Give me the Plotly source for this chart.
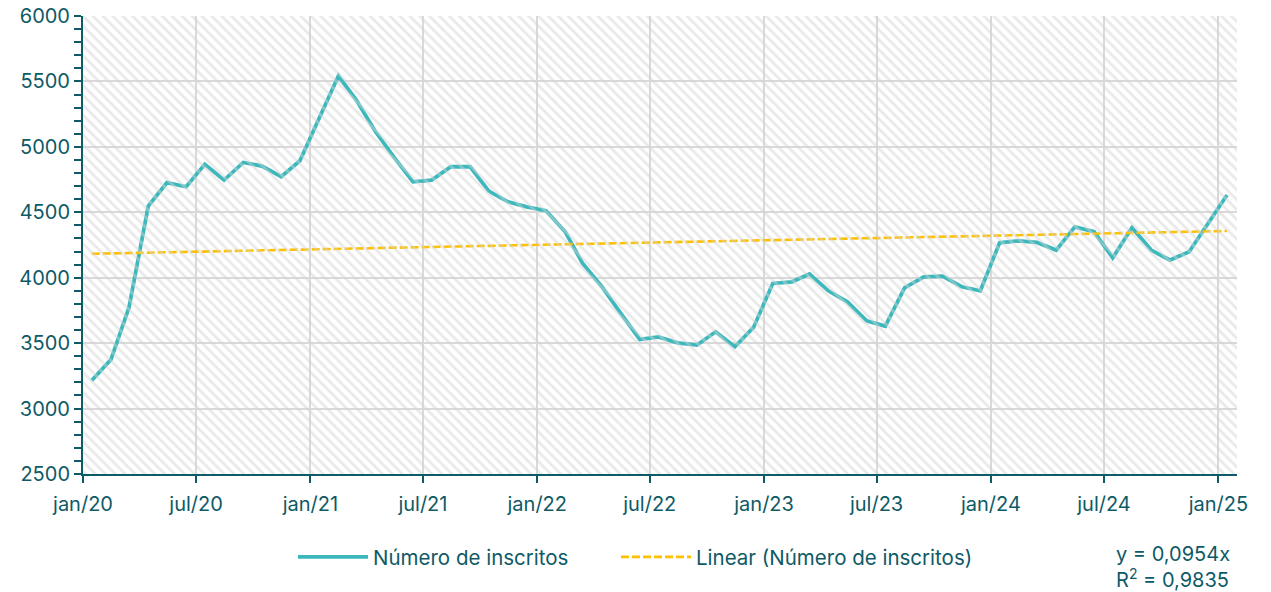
import pandas as pd
import plotly.graph_objects as go

# ---- data (monthly, plotted mid-month) ----
start_month = "2020-01"
inscritos = [
    3215, 3375, 3773, 4547, 4726, 4695, 4866, 4746, 4881, 4853, 4772, 4894,   # 2020
    5218, 5541, 5363, 5121, 4924, 4733, 4746, 4848, 4848, 4662, 4580, 4542,   # 2021
    4512, 4351, 4109, 3931, 3729, 3528, 3548, 3502, 3485, 3587, 3472, 3620,   # 2022
    3956, 3969, 4028, 3898, 3816, 3671, 3630, 3923, 4007, 4012, 3931, 3900,   # 2023
    4267, 4282, 4270, 4211, 4389, 4351, 4152, 4382, 4211, 4135, 4198, 4415,   # 2024
    4632,                                                                      # 2025
]
trend_slope = 0.0954          # y = 0,0954x  (x = Excel date serial)
trend_r2 = "0,9835"

tick_dates = ["2020-01-01", "2020-07-01", "2021-01-01", "2021-07-01", "2022-01-01",
              "2022-07-01", "2023-01-01", "2023-07-01", "2024-01-01", "2024-07-01",
              "2025-01-01"]
tick_labels = ["jan/20", "jul/20", "jan/21", "jul/21", "jan/22", "jul/22",
               "jan/23", "jul/23", "jan/24", "jul/24", "jan/25"]
y_ticks = [2500, 3000, 3500, 4000, 4500, 5000, 5500, 6000]

# ---- derived ----
dates = pd.date_range(start=start_month + "-01", periods=len(inscritos), freq="MS") + pd.Timedelta(days=14)
excel_serial = [(d - pd.Timestamp("1899-12-30")).days for d in dates]
trend = [trend_slope * s for s in excel_serial]

TXT = "#0E5A66"
TEAL = "#3AB8BC"
GOLD = "#FFC000"
GRID = "#D9D9D9"
FONT = "Inter"
FS = 20
LFS = 20.5

fig = go.Figure()

# hatched plot-area background on an overlay axis spanning [0,1]
fig.add_trace(go.Scatter(
    x=[0, 1, 1, 0, 0], y=[0, 0, 1, 1, 0], xaxis="x2", yaxis="y2",
    mode="lines", line=dict(width=0), fill="toself", fillcolor="rgba(0,0,0,0)",
    fillpattern=dict(shape="\\", fgcolor="#D4D4D4", bgcolor="rgba(255,255,255,0)",
                     size=7, solidity=0.4, fillmode="overlay"),
    hoverinfo="skip", showlegend=False,
))

fig.add_trace(go.Scatter(
    x=dates, y=inscritos, mode="lines", name="Número de inscritos",
    line=dict(color=TEAL, width=3.8), legend="legend",
))
fig.add_trace(go.Scatter(
    x=dates, y=trend, mode="lines", name="Linear (Número de inscritos)",
    line=dict(color=GOLD, width=2.6, dash="8px,3px"), legend="legend2",
))

legend_common = dict(
    orientation="h", xref="container", yref="container",
    xanchor="left", y=1 - 557 / 592, yanchor="middle",
    font=dict(family=FONT, size=LFS, color=TXT),
    itemwidth=70, bgcolor="rgba(0,0,0,0)",
)

fig.update_layout(
    width=1271, height=592,
    margin=dict(l=83, r=34, t=16, b=118, autoexpand=False),
    paper_bgcolor="white", plot_bgcolor="white",
    font=dict(family=FONT, size=FS, color=TXT),
    xaxis=dict(
        type="date", range=["2020-01-01", "2025-01-31"],
        tickvals=tick_dates, ticktext=tick_labels,
        showgrid=True, gridcolor=GRID, gridwidth=2,
        showline=True, linecolor=TXT, linewidth=2,
        ticks="outside", ticklen=7, tickwidth=2, tickcolor=TXT,
        ticklabelstandoff=4, automargin=False,
        tickfont=dict(family=FONT, size=FS, color=TXT),
        zeroline=False,
    ),
    yaxis=dict(
        range=[2500, 6000], tickvals=y_ticks,
        showgrid=True, gridcolor=GRID, gridwidth=2,
        showline=True, linecolor=TXT, linewidth=2,
        ticks="outside", ticklen=7, tickwidth=2, tickcolor=TXT,
        minor=dict(dtick=100, ticks="outside", ticklen=7, tickwidth=2, tickcolor=TXT, showgrid=False),
        tickfont=dict(family=FONT, size=FS, color=TXT),
        zeroline=False, automargin=False,
    ),
    xaxis2=dict(overlaying="x", range=[0, 1], visible=False, fixedrange=True, automargin=False),
    yaxis2=dict(overlaying="y", range=[0, 1], visible=False, fixedrange=True, automargin=False),
    legend=dict(x=(299 - 6) / 1271, **legend_common),
    legend2=dict(x=(622 - 6) / 1271, **legend_common),
    annotations=[dict(
        xref="paper", yref="paper", x=(1114 - 83) / 1154, y=(474 - 567) / 458,
        xanchor="left", yanchor="middle", align="left", showarrow=False,
        text="y = " + f"{trend_slope:.4f}".replace(".", ",") + "x<br>R<sup>2</sup> = " + trend_r2,
        font=dict(family=FONT, size=FS, color=TXT),
    )],
)

fig.write_html("out.html", config={"displayModeBar": False},
               post_script="document.body.style.margin='0px';")
